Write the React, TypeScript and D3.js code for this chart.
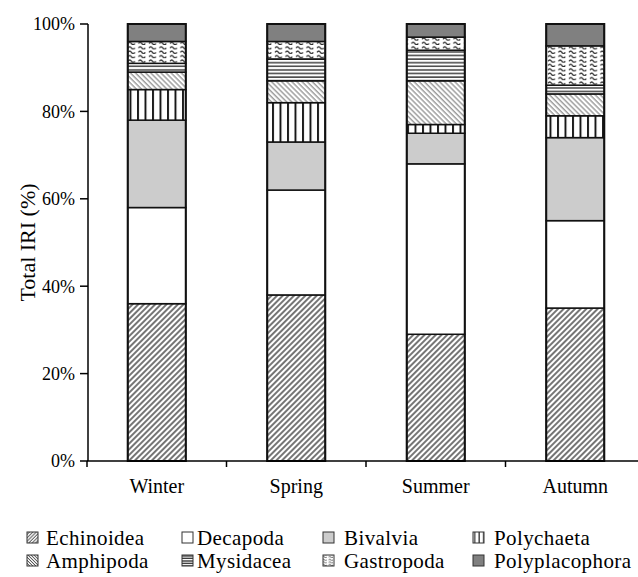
import * as d3 from 'd3'
import { useMemo } from 'react'

const WIDTH = 638
const HEIGHT = 577

const SEASONS = ['Winter', 'Spring', 'Summer', 'Autumn']
const TAXA = [
  'Echinoidea',
  'Decapoda',
  'Bivalvia',
  'Polychaeta',
  'Amphipoda',
  'Mysidacea',
  'Gastropoda',
  'Polyplacophora',
]

// % of total IRI, one value per season (Winter, Spring, Summer, Autumn)
const ECHINOIDEA = [36, 38, 29, 35]
const DECAPODA = [22, 24, 39, 20]
const BIVALVIA = [20, 11, 7, 19]
const POLYCHAETA = [7, 9, 2, 5]
const AMPHIPODA = [4, 5, 10, 5]
const MYSIDACEA = [2, 5, 7, 2]
const GASTROPODA = [5, 4, 3, 9]
const POLYPLACOPHORA = [4, 4, 3, 5]

const Y_TICKS = [0, 20, 40, 60, 80, 100]

// fill per taxon, in TAXA order (bars / legend swatches)
const FILLS = ['echi', '#ffffff', '#cccccc', 'poly', 'amph', 'mysi', 'gast', '#808080']

// legend layout: two rows of four
const LEGEND_SWATCH_X = [27, 182, 323, 473]
const LEGEND_TEXT_X = [46, 197, 344, 494]
const LEGEND_ROW_Y = [545, 568]

const FONT = '"Liberation Serif", "Times New Roman", serif'

const fillFor = (f: string, prefix: string) => (f.startsWith('#') ? f : `url(#${prefix}-${f})`)

function Patterns({ prefix, scale }: { prefix: string; scale: number }) {
  const s = scale
  return (
    <>
      <pattern id={`${prefix}-echi`} width={4 * s} height={4} patternUnits="userSpaceOnUse" patternTransform="rotate(45)">
        <rect width={4 * s} height={4} fill="#fff" />
        <line x1={1} y1={0} x2={1} y2={4} stroke="#3a3a3a" strokeWidth={1.4 * s} />
      </pattern>
      <pattern id={`${prefix}-amph`} width={3.6 * s} height={4} patternUnits="userSpaceOnUse" patternTransform="rotate(-45)">
        <rect width={3.6 * s} height={4} fill="#fff" />
        <line x1={1} y1={0} x2={1} y2={4} stroke="#555" strokeWidth={0.9} />
      </pattern>
      <pattern id={`${prefix}-poly`} width={7.5 * s} height={10} patternUnits="userSpaceOnUse" x={2 * s}>
        <rect width={7.5 * s} height={10} fill="#fff" />
        <line x1={1} y1={0} x2={1} y2={10} stroke="#111" strokeWidth={1.9 * Math.max(s, 0.6)} />
      </pattern>
      <pattern id={`${prefix}-mysi`} width={10} height={3.6 * Math.max(s, 0.7)} patternUnits="userSpaceOnUse" y={0.5}>
        <rect width={10} height={3.6 * Math.max(s, 0.7)} fill="#fff" />
        <line x1={0} y1={1} x2={10} y2={1} stroke="#111" strokeWidth={1.2} />
      </pattern>
      <pattern id={`${prefix}-gast`} width={10.5 * s} height={4.4 * s} patternUnits="userSpaceOnUse" y={1}>
        <rect width={10.5 * s} height={4.4 * s} fill="#fff" />
        <path
          d={`M${2 * s},${3 * s} q${1.7 * s},${-2.4 * s} ${3.4 * s},0 t${3.4 * s},0`}
          fill="none"
          stroke="#222"
          strokeWidth={1.2 * Math.max(s, 0.7)}
        />
      </pattern>
    </>
  )
}

export default function App() {
  const { x, y, layers } = useMemo(() => {
    const rows = SEASONS.map((s, i) => ({
      season: s,
      Echinoidea: ECHINOIDEA[i],
      Decapoda: DECAPODA[i],
      Bivalvia: BIVALVIA[i],
      Polychaeta: POLYCHAETA[i],
      Amphipoda: AMPHIPODA[i],
      Mysidacea: MYSIDACEA[i],
      Gastropoda: GASTROPODA[i],
      Polyplacophora: POLYPLACOPHORA[i],
    }))
    const layers = d3.stack<any>().keys(TAXA)(rows)
    const x = d3
      .scaleBand()
      .domain(SEASONS)
      .range([87, 645])
      .paddingInner(0.584)
      .paddingOuter(0.292)
    const y = d3.scaleLinear().domain([0, 100]).range([461, 24])
    return { x, y, layers }
  }, [])

  const step = x.step()
  const x0 = x.range()[0]
  const tickXs = SEASONS.map((_, i) => x0 + i * step)

  return (
    <svg
      width={WIDTH}
      height={HEIGHT}
      style={{ position: 'absolute', left: 0, top: 0, background: '#fff' }}
      fontFamily={FONT}
    >
      <defs>
        <Patterns prefix="bar" scale={1} />
        <Patterns prefix="leg" scale={0.6} />
      </defs>

      {/* bars */}
      {layers.map((layer, li) => (
        <g key={TAXA[li]}>
          {layer.map((d) => {
            const season = (d.data as any).season as string
            return (
              <rect
                key={season}
                x={x(season) ?? 0}
                y={y(d[1])}
                width={x.bandwidth()}
                height={y(d[0]) - y(d[1])}
                fill={fillFor(FILLS[li], 'bar')}
                stroke="#111"
                strokeWidth={1.5}
              />
            )
          })}
        </g>
      ))}
      {SEASONS.map((s) => (
        <rect
          key={s}
          x={x(s)}
          y={y(100)}
          width={x.bandwidth()}
          height={y(0) - y(100)}
          fill="none"
          stroke="#111"
          strokeWidth={2}
        />
      ))}

      {/* y axis */}
      <line x1={88} y1={y(0)} x2={88} y2={y(100)} stroke="#000" strokeWidth={1.5} />
      {Y_TICKS.map((t) => (
        <g key={t}>
          <line x1={80} x2={88} y1={y(t)} y2={y(t)} stroke="#000" strokeWidth={1.5} />
          <text x={75} y={y(t)} dy="0.35em" textAnchor="end" fontSize={18}>
            {`${t}%`}
          </text>
        </g>
      ))}
      <text
        transform={`translate(35,${(y(0) + y(100)) / 2}) rotate(-90)`}
        textAnchor="middle"
        fontSize={22}
      >
        Total IRI (%)
      </text>

      {/* x axis */}
      <line x1={87} x2={WIDTH} y1={y(0)} y2={y(0)} stroke="#000" strokeWidth={1.5} />
      {tickXs.map((tx, i) => (
        <line key={i} x1={tx} x2={tx} y1={y(0)} y2={y(0) + 6} stroke="#000" strokeWidth={1.5} />
      ))}
      {SEASONS.map((s) => (
        <text key={s} x={(x(s) ?? 0) + x.bandwidth() / 2} y={493} textAnchor="middle" fontSize={20}>
          {s}
        </text>
      ))}

      {/* legend */}
      {TAXA.map((t, i) => {
        const col = i % 4
        const row = Math.floor(i / 4)
        const by = LEGEND_ROW_Y[row]
        return (
          <g key={t}>
            <rect
              x={LEGEND_SWATCH_X[col]}
              y={by - 13}
              width={11}
              height={11}
              fill={fillFor(FILLS[i], 'leg')}
              stroke="#333"
              strokeWidth={1}
            />
            <text x={LEGEND_TEXT_X[col]} y={by} fontSize={21} letterSpacing={0.4}>
              {t}
            </text>
          </g>
        )
      })}
    </svg>
  )
}
